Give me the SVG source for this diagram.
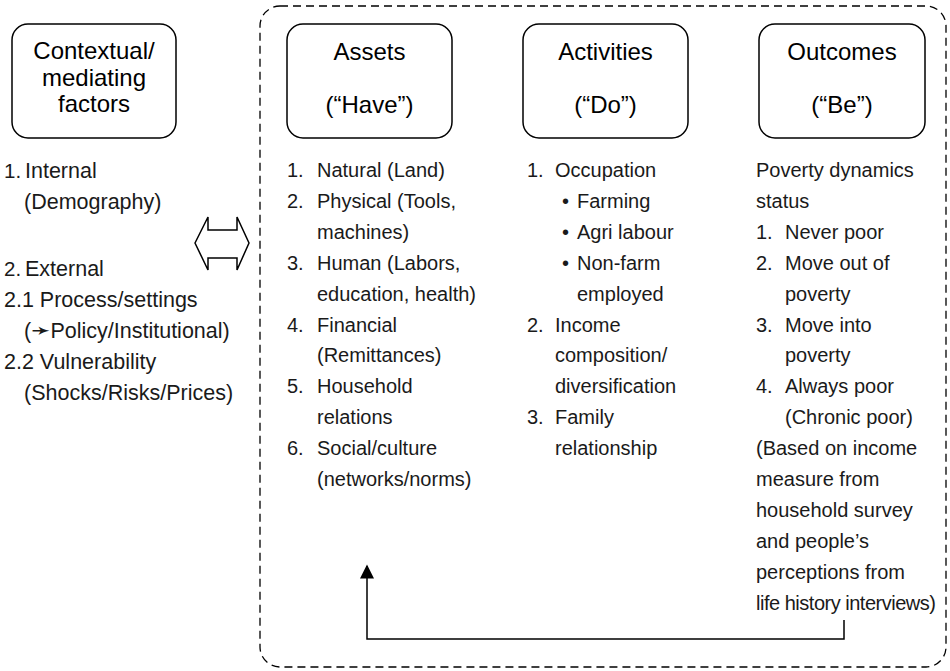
<svg xmlns="http://www.w3.org/2000/svg" width="950" height="671" viewBox="0 0 950 671">
<defs>
<style>
.box{fill:#fff;stroke:#000;stroke-width:1.5}
.title{font-family:"Liberation Sans",Arial,sans-serif;font-size:24px;fill:#000;text-anchor:middle}
.t{font-family:"Liberation Sans",Arial,sans-serif;font-size:20px;fill:#1a1a1a}
.tl{font-family:"Liberation Sans",Arial,sans-serif;font-size:21.5px;fill:#1a1a1a}
.dash{fill:none;stroke:#000;stroke-width:1.3;stroke-dasharray:8 5}
.line{fill:none;stroke:#000;stroke-width:1.5}
</style>
<marker id="ah" viewBox="0 0 10 10" refX="9" refY="5" markerWidth="20" markerHeight="14" markerUnits="userSpaceOnUse" orient="auto">
<path d="M0,0 L10,5 L0,10 Z" fill="#000"/>
</marker>
</defs>
<rect width="950" height="671" fill="#fff"/>
<rect id="frame" class="dash" x="260" y="6" width="686" height="661" rx="20"/>

<g id="contextual">
<rect class="box" x="12" y="24" width="164" height="114" rx="16"/>
<text class="title" x="94" y="59">Contextual/</text>
<text class="title" x="94" y="86">mediating</text>
<text class="title" x="94" y="112">factors</text>
</g>
<g id="assets">
<rect class="box" x="287" y="24" width="165" height="114" rx="16"/>
<text class="title" x="369.5" y="60">Assets</text>
<text class="title" x="369.5" y="113">(“Have”)</text>
</g>
<g id="activities">
<rect class="box" x="523" y="24" width="165" height="114" rx="16"/>
<text class="title" x="605.5" y="60">Activities</text>
<text class="title" x="605.5" y="113">(“Do”)</text>
</g>
<g id="outcomes">
<rect class="box" x="759" y="24" width="166" height="114" rx="16"/>
<text class="title" x="842" y="60">Outcomes</text>
<text class="title" x="842" y="113">(“Be”)</text>
</g>

<g id="contextual-list" class="tl">
<text x="4" y="178" font-size="20.5">1.</text><text x="25" y="178">Internal</text>
<text x="24" y="209">(Demography)</text>
<text x="4" y="276" font-size="20.5">2.</text><text x="25" y="276">External</text>
<text x="4" y="307">2.1 Process/settings</text>
<text x="24" y="338">(<tspan font-family="DejaVu Sans" font-size="23">➛</tspan>Policy/Institutional)</text>
<text x="4" y="369">2.2 Vulnerability</text>
<text x="24" y="400">(Shocks/Risks/Prices)</text>
</g>

<g id="assets-list" class="t">
<text x="287" y="177">1.</text><text x="317" y="177">Natural (Land)</text>
<text x="287" y="208">2.</text><text x="317" y="208">Physical (Tools,</text>
<text x="317" y="239">machines)</text>
<text x="287" y="270">3.</text><text x="317" y="270">Human (Labors,</text>
<text x="317" y="301">education, health)</text>
<text x="287" y="332">4.</text><text x="317" y="332">Financial</text>
<text x="317" y="362">(Remittances)</text>
<text x="287" y="393">5.</text><text x="317" y="393">Household</text>
<text x="317" y="424">relations</text>
<text x="287" y="455">6.</text><text x="317" y="455">Social/culture</text>
<text x="317" y="486">(networks/norms)</text>
</g>

<g id="activities-list" class="t">
<text x="527" y="177">1.</text><text x="555" y="177">Occupation</text>
<text x="562" y="208">•</text><text x="577" y="208">Farming</text>
<text x="562" y="239">•</text><text x="577" y="239">Agri labour</text>
<text x="562" y="270">•</text><text x="577" y="270">Non-farm</text>
<text x="577" y="301">employed</text>
<text x="527" y="332">2.</text><text x="555" y="332">Income</text>
<text x="555" y="362">composition/</text>
<text x="555" y="393">diversification</text>
<text x="527" y="424">3.</text><text x="555" y="424">Family</text>
<text x="555" y="455">relationship</text>
</g>

<g id="outcomes-list" class="t">
<text x="756" y="177">Poverty dynamics</text>
<text x="756" y="208">status</text>
<text x="756" y="239">1.</text><text x="785" y="239">Never poor</text>
<text x="756" y="270">2.</text><text x="785" y="270">Move out of</text>
<text x="785" y="301">poverty</text>
<text x="756" y="332">3.</text><text x="785" y="332">Move into</text>
<text x="785" y="362">poverty</text>
<text x="756" y="393">4.</text><text x="785" y="393">Always poor</text>
<text x="785" y="424">(Chronic poor)</text>
<text x="756" y="455">(Based on income</text>
<text x="756" y="486">measure from</text>
<text x="756" y="517">household survey</text>
<text x="756" y="548">and people’s</text>
<text x="756" y="579">perceptions from</text>
<text x="756" y="610" textLength="180" lengthAdjust="spacing">life history interviews)</text>
</g>

<g id="connectors">
<polygon class="line" fill="#fff" points="195,243 208,217 208,230 237,230 237,217 249,243 237,270 237,258 208,258 208,270"/>
<path class="line" d="M844,620 V639 H367 V566" marker-end="url(#ah)"/>
</g>
</svg>
